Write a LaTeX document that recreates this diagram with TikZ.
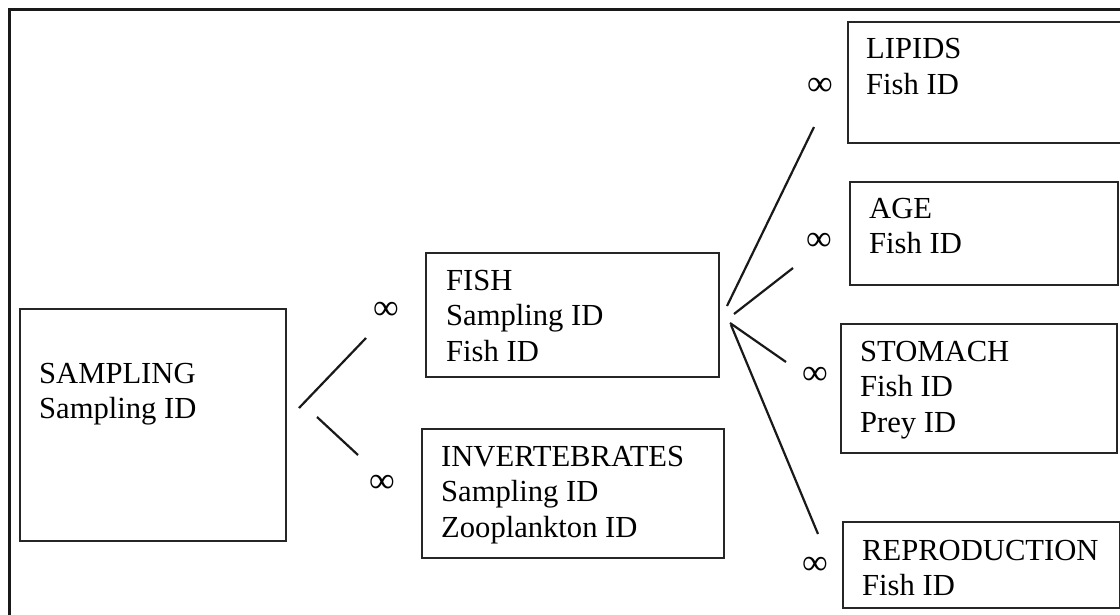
\documentclass[tikz,border=0pt]{standalone}
\usepackage{fontspec}
\setmainfont{Liberation Serif}
\begin{document}
\begin{tikzpicture}[x=1pt,y=-1pt,
  box/.style={draw=black!85,line width=2.2pt,rectangle,inner sep=0pt,anchor=north west},
  lbl/.style={anchor=north west,inner sep=0pt,align=left,font=\fontsize{30.6}{35.5}\selectfont},
  inf/.style={inner sep=0pt,font=\fontsize{36}{40}\selectfont},
  conn/.style={draw=black!90,line width=2.2pt},
  frame/.style={draw=black!90,line width=3pt}]
\useasboundingbox (0,0) rectangle (1120,614);
% outer frame
\draw[frame] (9,625) -- (9,9) -- (1130,9);
% boxes
\node[box,minimum width=266pt,minimum height=232pt] (sampling) at (19,308) {};
\node[box,minimum width=293pt,minimum height=124pt] (fish) at (425,252) {};
\node[box,minimum width=302pt,minimum height=129pt] (inv) at (421,428) {};
\node[box,minimum width=285pt,minimum height=121pt] (lipids) at (847,21) {};
\node[box,minimum width=268pt,minimum height=103pt] (age) at (849,181) {};
\node[box,minimum width=276pt,minimum height=129pt] (stomach) at (840,323) {};
\node[box,minimum width=277pt,minimum height=86pt] (repro) at (842,521) {};
% texts
\node[lbl] (samplingT) at (39,363) {SAMPLING\\Sampling ID};
\node[lbl] (fishT) at (446,270) {FISH\\Sampling ID\\Fish ID};
\node[lbl] (invT) at (441,446) {INVERTEBRATES\\Sampling ID\\Zooplankton ID};
\node[lbl] (lipidsT) at (866,38.5) {LIPIDS\\Fish ID};
\node[lbl] (ageT) at (869,198) {AGE\\Fish ID};
\node[lbl] (stomachT) at (860,341) {STOMACH\\Fish ID\\Prey ID};
\node[lbl] (reproT) at (862,540) {REPRODUCTION\\Fish ID};
% infinity marks
\node[inf] (i1) at (386,311) {∞};
\node[inf] (i2) at (382,484) {∞};
\node[inf] (i3) at (820,87) {∞};
\node[inf] (i4) at (819,242) {∞};
\node[inf] (i5) at (815,376) {∞};
\node[inf] (i6) at (815,566) {∞};
% connector end points
\coordinate (s1a) at (299,408); \coordinate (s1b) at (366,338);
\coordinate (s2a) at (317,417); \coordinate (s2b) at (358,455);
\coordinate (f1a) at (727,306); \coordinate (f1b) at (814,127);
\coordinate (f2a) at (734,314); \coordinate (f2b) at (793,268);
\coordinate (f3a) at (730,323); \coordinate (f3b) at (786,362);
\coordinate (f4a) at (731,325); \coordinate (f4b) at (818,534);
\draw[conn] (s1a) -- (s1b);
\draw[conn] (s2a) -- (s2b);
\draw[conn] (f1a) -- (f1b);
\draw[conn] (f2a) -- (f2b);
\draw[conn] (f3a) -- (f3b);
\draw[conn] (f4a) -- (f4b);
\end{tikzpicture}
\end{document}
